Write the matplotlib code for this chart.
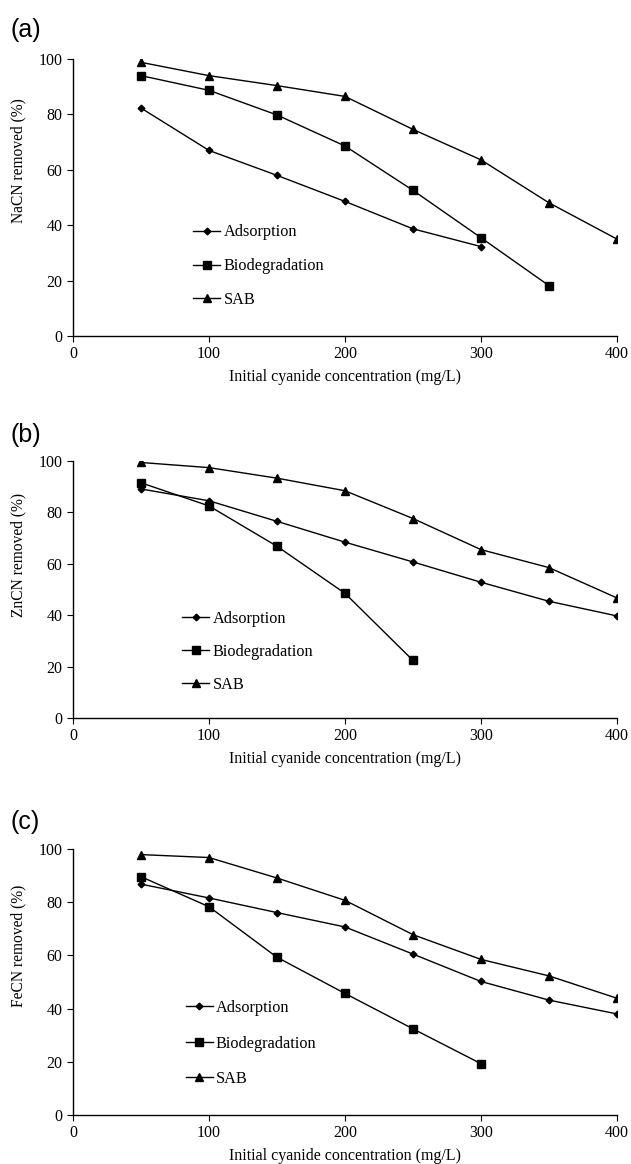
import matplotlib
matplotlib.use("Agg")
import matplotlib.pyplot as plt

conc = [50, 100, 150, 200, 250, 300, 350, 400]

# (a) NaCN
nacn_ads = [82.3, 67.0, 58.0, 48.6, 38.7, 32.3]
nacn_bio = [94.0, 88.7, 79.8, 68.6, 52.6, 35.5, 18.2]
nacn_sab = [98.8, 94.0, 90.4, 86.5, 74.6, 63.6, 48.1, 35.0]

# (b) ZnCN
zncn_ads = [89.1, 84.5, 76.5, 68.4, 60.7, 52.8, 45.4, 39.7]
zncn_bio = [91.5, 82.5, 66.8, 48.5, 22.4]
zncn_sab = [99.4, 97.4, 93.3, 88.4, 77.6, 65.5, 58.5, 46.7]

# (c) FeCN
fecn_ads = [86.8, 81.6, 76.1, 70.7, 60.5, 50.2, 43.2, 38.0]
fecn_bio = [89.6, 78.3, 59.3, 45.7, 32.4, 19.3]
fecn_sab = [97.9, 96.8, 89.1, 80.7, 67.8, 58.5, 52.3, 43.9]

panels = [
    ("(a)", "NaCN removed (%)", nacn_ads, nacn_bio, nacn_sab),
    ("(b)", "ZnCN removed (%)", zncn_ads, zncn_bio, zncn_sab),
    ("(c)", "FeCN removed (%)", fecn_ads, fecn_bio, fecn_sab),
]

plt.rcParams["font.family"] = ["Liberation Serif", "DejaVu Serif"]

fig = plt.figure(figsize=(6.31, 11.64), dpi=100)

# axes boxes in figure fractions (left, bottom, width, height)
boxes = [
    (0.1157, 0.7113, 0.862, 0.2380),
    (0.1157, 0.3832, 0.862, 0.2208),
    (0.1157, 0.0421, 0.862, 0.2285),
]
legend_pos = [(0.221, 0.101), (0.201, 0.097), (0.207, 0.105)]
legend_gap = [1.1, 1.05, 1.2]
tag_y = [0.9742, 0.6263, 0.2938]

for (tag, ylab, ads, bio, sab), box, lpos, gap, ty in zip(panels, boxes, legend_pos, legend_gap, tag_y):
    ax = fig.add_axes(box)
    ax.plot(conc[:len(ads)], ads, color="black", lw=1.0, marker="D", ms=3.4, label="Adsorption")
    ax.plot(conc[:len(bio)], bio, color="black", lw=1.0, marker="s", ms=5.5, label="Biodegradation")
    ax.plot(conc[:len(sab)], sab, color="black", lw=1.0, marker="^", ms=5.5, label="SAB")

    ax.set_xlim(0, 400)
    ax.set_ylim(0, 100)
    ax.set_xticks([0, 100, 200, 300, 400])
    ax.set_yticks([0, 20, 40, 60, 80, 100])
    ax.spines["top"].set_visible(False)
    ax.spines["right"].set_visible(False)
    ax.spines["left"].set_linewidth(1.0)
    ax.spines["bottom"].set_linewidth(1.0)
    ax.tick_params(direction="out", length=4, width=0.8, labelsize=11.5)
    ax.set_xlabel("Initial cyanide concentration (mg/L)", fontsize=11.5, labelpad=5)
    ax.set_ylabel(ylab, fontsize=11.2)
    ax.yaxis.set_label_coords(-0.085, 0.634)

    ax.legend(loc="lower left", bbox_to_anchor=lpos, frameon=False, fontsize=11.7,
              handlelength=1.66, handletextpad=0.2, labelspacing=gap,
              borderpad=0, borderaxespad=0)

    fig.text(0.016, ty, tag, fontsize=18,
             family=["Liberation Sans", "DejaVu Sans"], va="center", ha="left")

fig.savefig("out.png", dpi=100)
